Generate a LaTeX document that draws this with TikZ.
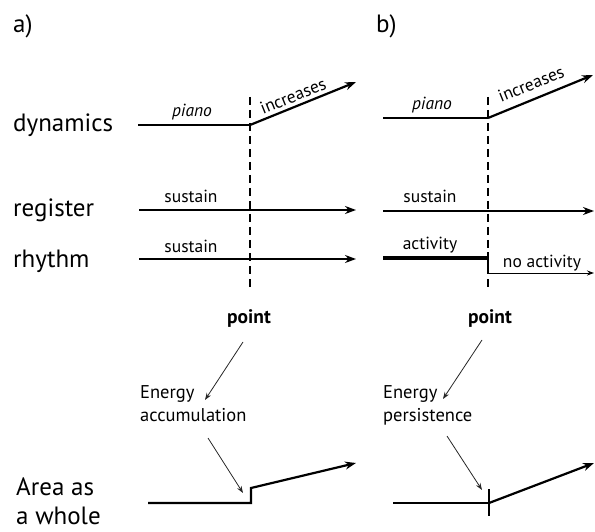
\documentclass[tikz,border=0pt]{standalone}
\usepackage{fontspec}
\setmainfont{PT Sans}
\usetikzlibrary{arrows.meta}
\begin{document}
\begin{tikzpicture}[x=1pt,y=-1pt,
  big/.style={font=\fontsize{25}{30}\selectfont, anchor=base west, inner sep=0pt},
  sm/.style={font=\fontsize{17.5}{19}\selectfont, anchor=base, inner sep=0pt},
  en/.style={font=\fontsize{18.5}{23}\selectfont, anchor=north west, inner sep=0pt, align=left},
  pt/.style={sm, font=\fontsize{19.5}{21}\selectfont\bfseries},
  mainline/.style={line width=2.2pt, line join=miter},
  bigarrow/.style={mainline, -{Stealth[length=11pt,width=8pt]}},
  thinarrow/.style={line width=1pt, -{Stealth[length=7pt,width=5pt]}},
  pointer/.style={line width=0.8pt, black!85, -{Stealth[length=7pt,width=5pt]}},
  dashline/.style={line width=2pt, dash pattern=on 8pt off 5pt}
]
\useasboundingbox (0,0) rectangle (595,532);

% panel labels
\node[big] (la) at (13,33) {a)};
\node[big] (lb) at (376,33) {b)};

% row labels
\node[big] (ldyn) at (13,132) {dynamics};
\node[big] (lreg) at (13,217) {register};
\node[big] (lrhy) at (13,267) {rhythm};
\node[big, font=\fontsize{25}{29}\selectfont, anchor=north west, align=left] (larea) at (16,478) {Area as\\a whole};

% ---------- panel a ----------
\coordinate (aD0) at (138,125);
\coordinate (aD1) at (250,125);
\coordinate (aD2) at (356,82);
\draw[mainline] (aD0) -- (aD1);
\draw[bigarrow] (aD1) -- (aD2);
\node[sm] (apiano) at (192,117) {\itshape piano};
\node[sm, anchor=center, rotate=22] (ainc) at (293,96) {increases};

\coordinate (aR0) at (139,210);
\coordinate (aR1) at (356,210);
\draw[bigarrow] (aR0) -- (aR1);
\node[sm] (asus1) at (191,203) {sustain};

\coordinate (aY0) at (139,259);
\coordinate (aY1) at (356,259);
\draw[bigarrow] (aY0) -- (aY1);
\node[sm] (asus2) at (191,252) {sustain};

\coordinate (aV0) at (250,97);
\coordinate (aV1) at (250,291);
\draw[dashline] (aV0) -- (aV1);

\node[pt] (apoint) at (249,323) {point};
\node[en] (aen) at (140,385) {Energy\\accumulation};
\coordinate (aP0) at (243,342);
\coordinate (aP1) at (205,400);
\coordinate (aQ0) at (208,438);
\coordinate (aQ1) at (243,493);
\draw[pointer] (aP0) -- (aP1);
\draw[pointer] (aQ0) -- (aQ1);

\coordinate (aA0) at (148,503);
\coordinate (aA1) at (251,503);
\coordinate (aA2) at (251,488);
\coordinate (aA3) at (356,463);
\draw[bigarrow] (aA0) -- (aA1) -- (aA2) -- (aA3);

% ---------- panel b ----------
\coordinate (bD0) at (383,118);
\coordinate (bD1) at (488,118);
\coordinate (bD2) at (593,75);
\draw[mainline] (bD0) -- (bD1);
\draw[bigarrow] (bD1) -- (bD2);
\node[sm] (bpiano) at (432,110) {\itshape piano};
\node[sm, anchor=center, rotate=22] (binc) at (531,84) {increases};

\coordinate (bR0) at (383,211);
\coordinate (bR1) at (594,211);
\draw[bigarrow] (bR0) -- (bR1);
\node[sm] (bsus) at (430,203) {sustain};

\coordinate (bY0) at (383,258);
\coordinate (bY1) at (488,258);
\coordinate (bY2) at (488,252);
\coordinate (bY3) at (488,273);
\coordinate (bY4) at (594,273);
\draw[line width=4.5pt] (bY0) -- (bY1);
\draw[line width=1.5pt] (bY2) -- (bY3);
\draw[thinarrow] (bY3) -- (bY4);
\node[sm] (bact) at (430,250) {activity};
\node[sm] (bnoact) at (542,267) {no activity};

\coordinate (bV0) at (488,97);
\coordinate (bV1) at (488,291);
\draw[dashline] (bV0) -- (bV1);

\node[pt] (bpoint) at (490,323) {point};
\node[en] (ben) at (383,385) {Energy\\persistence};
\coordinate (bP0) at (482,340);
\coordinate (bP1) at (443,399);
\coordinate (bQ0) at (447,436);
\coordinate (bQ1) at (482,490);
\draw[pointer] (bP0) -- (bP1);
\draw[pointer] (bQ0) -- (bQ1);

\coordinate (bA0) at (393,503);
\coordinate (bA1) at (489,503);
\coordinate (bA2) at (594,463);
\coordinate (bT0) at (489,489);
\coordinate (bT1) at (489,516);
\draw[mainline] (bA0) -- (bA1);
\draw[bigarrow] (bA1) -- (bA2);
\draw[mainline] (bT0) -- (bT1);
\end{tikzpicture}
\end{document}
